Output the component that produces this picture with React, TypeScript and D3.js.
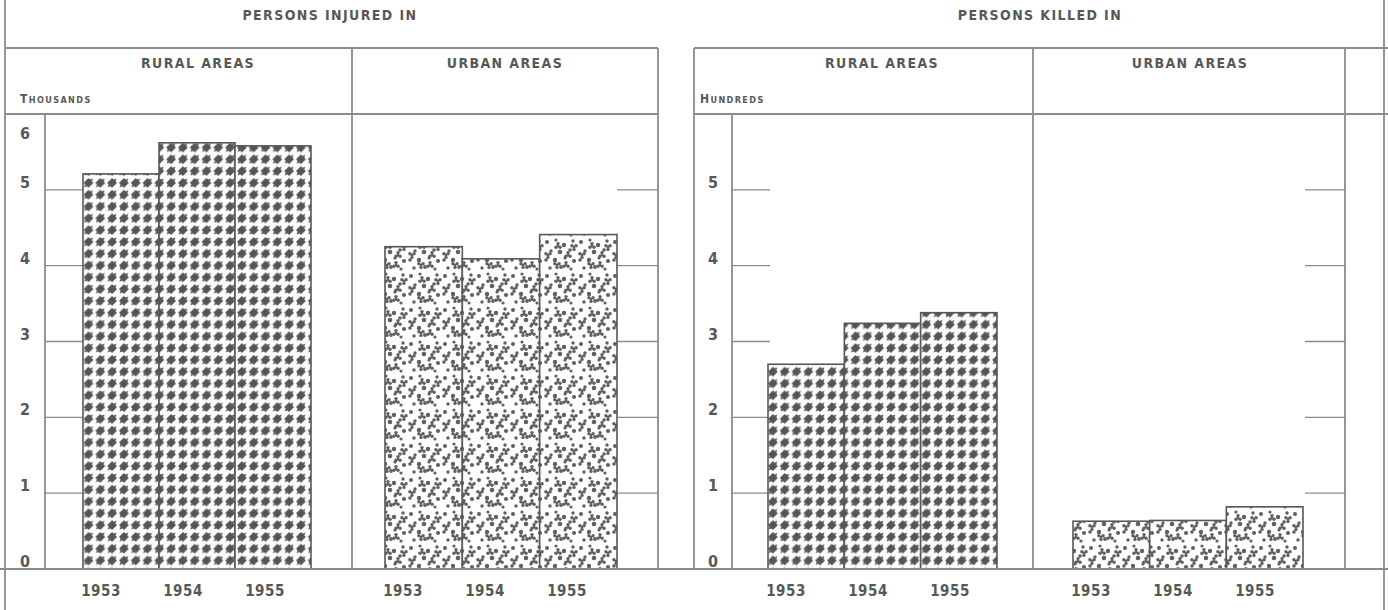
import React from "react";
import * as d3 from "d3";

const years = ["1953", "1954", "1955"];
const injuredRural = [5.21, 5.62, 5.58];
const injuredUrban = [4.25, 4.09, 4.41];
const killedRural = [2.7, 3.24, 3.38];
const killedUrban = [0.63, 0.64, 0.82];
const injuredTicks = [0, 1, 2, 3, 4, 5, 6];
const killedTicks = [0, 1, 2, 3, 4, 5];
const innerTicks = [1, 2, 3, 4, 5];

const W = 1388;
const H = 610;
const LINE = "#8c8c8c";
const INK = "#585858";
const FONT = "'DejaVu Sans Condensed', 'DejaVu Sans', sans-serif";

const TITLE_Y = 48;
const HEAD_Y = 114;
const BASE_Y = 569;

const y = d3.scaleLinear().domain([0, 6]).range([BASE_Y, HEAD_Y]);

const xInjRural = d3.scaleBand().domain(years).range([83, 311]);
const xInjUrban = d3.scaleBand().domain(years).range([385, 617]);
const xKilRural = d3.scaleBand().domain(years).range([768, 997]);
const xKilUrban = d3.scaleBand().domain(years).range([1073, 1303]);

// stipple blobs for urban pattern (style definition)
const dots: [number, number, number][] = [
  [3, 4, 2], [12, 2, 1.6], [20, 7, 2.2], [29, 3, 1.7], [7, 13, 1.7], [16, 14, 2.3],
  [26, 12, 1.8], [2, 22, 1.8], [11, 22, 2.2], [21, 20, 1.6], [30, 23, 2.1], [6, 30, 1.7],
  [17, 29, 1.9], [27, 31, 1.6],
];
const tris: [number, number, number][] = [
  [14, 8, 0], [4, 17, 1], [24, 17, 0], [13, 27, 1], [30, 9, 1], [22, 27, 0],
];

function Bars({ scale, values, pattern }: { scale: d3.ScaleBand<string>; values: number[]; pattern: string }) {
  const x0 = scale.range()[0];
  const labelX = d3.scalePoint().domain(years).range([x0 + 18, x0 + 182]);
  return (
    <g>
      {years.map((yr, i) => (
        <rect
          key={yr}
          x={scale(yr)}
          y={y(values[i])}
          width={scale.bandwidth()}
          height={BASE_Y - y(values[i])}
          fill={`url(#${pattern})`}
          stroke={INK}
          strokeWidth={1.6}
        />
      ))}
      {years.map((yr) => (
        <text
          key={"l" + yr}
          x={labelX(yr)}
          y={596}
          textAnchor="middle"
          fontSize={15}
          fontWeight="bold"
          fill={INK}
          fontFamily={FONT}
          letterSpacing={0.5}
        >
          {yr}
        </text>
      ))}
    </g>
  );
}

function TickLines({ x1, x2 }: { x1: number; x2: number }) {
  return (
    <g>
      {innerTicks.map((t) => (
        <line key={t} x1={x1} x2={x2} y1={y(t)} y2={y(t)} stroke={LINE} strokeWidth={1.4} />
      ))}
    </g>
  );
}

function YLabels({ ticks, x }: { ticks: number[]; x: number }) {
  return (
    <g>
      {ticks.map((t) => (
        <text
          key={t}
          x={x}
          y={t === 6 ? 139 : y(t) - 2}
          textAnchor="middle"
          fontSize={16}
          fontWeight="bold"
          fill={INK}
          fontFamily={FONT}
        >
          {t}
        </text>
      ))}
    </g>
  );
}

function Label({ x, y: yy, children, size = 14, anchor = "middle" }: any) {
  return (
    <text
      x={x}
      y={yy}
      textAnchor={anchor}
      fontSize={size}
      fontWeight="bold"
      fill={INK}
      fontFamily={FONT}
      letterSpacing={1.4}
    >
      {children}
    </text>
  );
}

export default function App() {
  const p = 11.8;
  const h = p / 2;
  const r = 4.9;
  return (
    <svg width={W} height={H} viewBox={`0 0 ${W} ${H}`} style={{ display: "block", position: "absolute", left: 0, top: 0, background: "#fff" }}>
      <defs>
        <pattern id="hound" patternUnits="userSpaceOnUse" width={p} height={p}>
          <rect width={p} height={p} fill="#fcfcfc" />
          <path d={`M${h},${h - r} L${h + r},${h} L${h},${h + r} L${h - r},${h} Z`} fill="#555" />
          <path d={`M${h + 1.2},${h - 3.2} L${h + 4.4},${h - 4.4} L${h + 3.2},${h - 1.2} Z`} fill="#555" />
          <path d={`M${h - 1.2},${h + 3.2} L${h - 4.4},${h + 4.4} L${h - 3.2},${h + 1.2} Z`} fill="#555" />
        </pattern>
        <pattern id="stipple" patternUnits="userSpaceOnUse" width={34} height={34}>
          <rect width={34} height={34} fill="#fdfdfd" />
          {dots.map(([cx, cy, rr], i) => (
            <circle key={i} cx={cx} cy={cy} r={rr} fill="#606060" />
          ))}
          {tris.map(([cx, cy, o], i) => {
            const a0 = o ? Math.PI / 2 : -Math.PI / 2;
            return (
              <g key={"t" + i} fill="#606060">
                {[0, 1, 2].map((k) => {
                  const a = a0 + (k * 2 * Math.PI) / 3;
                  return <circle key={k} cx={cx + Math.cos(a) * 2.4} cy={cy + Math.sin(a) * 2.4} r={1.7} />;
                })}
                <circle cx={cx} cy={cy} r={1.3} />
              </g>
            );
          })}
        </pattern>
      </defs>

      {/* tick lines */}
      <TickLines x1={45} x2={83} />
      <TickLines x1={617} x2={658} />
      <TickLines x1={732} x2={770} />
      <TickLines x1={1305} x2={1345} />

      {/* bars */}
      <Bars scale={xInjRural} values={injuredRural} pattern="hound" />
      <Bars scale={xInjUrban} values={injuredUrban} pattern="stipple" />
      <Bars scale={xKilRural} values={killedRural} pattern="hound" />
      <Bars scale={xKilUrban} values={killedUrban} pattern="stipple" />

      {/* frame lines */}
      <g stroke={LINE} strokeWidth={1.8} fill="none">
        <line x1={5} x2={5} y1={0} y2={H} />
        <line x1={5} x2={658} y1={TITLE_Y} y2={TITLE_Y} />
        <line x1={5} x2={658} y1={HEAD_Y} y2={HEAD_Y} />
        <line x1={45} x2={45} y1={HEAD_Y} y2={BASE_Y} />
        <line x1={352} x2={352} y1={TITLE_Y} y2={BASE_Y} />
        <line x1={658} x2={658} y1={TITLE_Y} y2={BASE_Y} />

        <line x1={694} x2={694} y1={TITLE_Y} y2={BASE_Y} />
        <line x1={694} x2={W} y1={TITLE_Y} y2={TITLE_Y} />
        <line x1={694} x2={W} y1={HEAD_Y} y2={HEAD_Y} />
        <line x1={732} x2={732} y1={HEAD_Y} y2={BASE_Y} />
        <line x1={1033} x2={1033} y1={TITLE_Y} y2={BASE_Y} />
        <line x1={1345} x2={1345} y1={TITLE_Y} y2={BASE_Y} />
        <line x1={1384} x2={1384} y1={0} y2={H} />

        <line x1={0} x2={W} y1={BASE_Y} y2={BASE_Y} />
      </g>

      {/* axis labels */}
      <YLabels ticks={injuredTicks} x={25} />
      <YLabels ticks={killedTicks} x={713} />

      {/* headers */}
      <Label x={330} y={20}>PERSONS INJURED IN</Label>
      <Label x={1040} y={20}>PERSONS KILLED IN</Label>
      <Label x={198} y={68}>RURAL AREAS</Label>
      <Label x={505} y={68}>URBAN AREAS</Label>
      <Label x={882} y={68}>RURAL AREAS</Label>
      <Label x={1190} y={68}>URBAN AREAS</Label>
      <Label x={20} y={103} anchor="start" size={12}>
        T<tspan fontSize={9}>HOUSANDS</tspan>
      </Label>
      <Label x={700} y={103} anchor="start" size={12}>
        H<tspan fontSize={9}>UNDREDS</tspan>
      </Label>
    </svg>
  );
}
